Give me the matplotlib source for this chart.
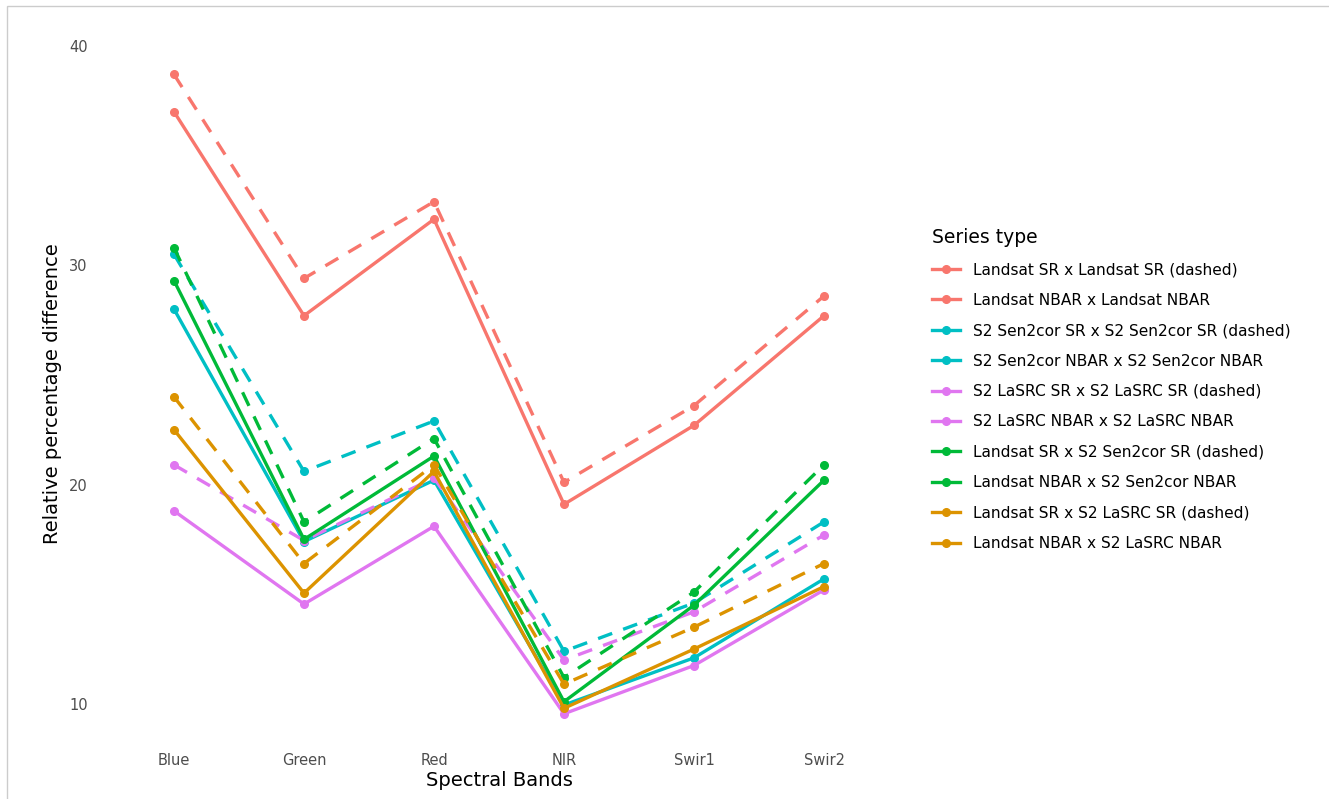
import matplotlib.pyplot as plt
from matplotlib.patches import Rectangle

# bands on the x axis
bands = ['Blue', 'Green', 'Red', 'NIR', 'Swir1', 'Swir2']

# series names (legend order)
series_names = [
    'Landsat SR x Landsat SR (dashed)',
    'Landsat NBAR x Landsat NBAR',
    'S2 Sen2cor SR x S2 Sen2cor SR (dashed)',
    'S2 Sen2cor NBAR x S2 Sen2cor NBAR',
    'S2 LaSRC SR x S2 LaSRC SR (dashed)',
    'S2 LaSRC NBAR x S2 LaSRC NBAR',
    'Landsat SR x S2 Sen2cor SR (dashed)',
    'Landsat NBAR x S2 Sen2cor NBAR',
    'Landsat SR x S2 LaSRC SR (dashed)',
    'Landsat NBAR x S2 LaSRC NBAR',
]

# values
landsat_sr = [38.7, 29.4, 32.9, 20.1, 23.6, 28.6]
landsat_nbar = [37.0, 27.7, 32.1, 19.1, 22.7, 27.7]
sen2cor_sr = [30.5, 20.6, 22.9, 12.4, 14.6, 18.3]
sen2cor_nbar = [28.0, 17.4, 20.2, 9.95, 12.1, 15.7]
lasrc_sr = [20.9, 17.45, 20.3, 12.0, 14.2, 17.7]
lasrc_nbar = [18.8, 14.55, 18.1, 9.55, 11.75, 15.2]
ls_sen2cor_sr = [30.8, 18.3, 22.1, 11.2, 15.1, 20.9]
ls_sen2cor_nbar = [29.3, 17.5, 21.3, 10.1, 14.5, 20.2]
ls_lasrc_sr = [24.0, 16.4, 20.9, 10.9, 13.5, 16.4]
ls_lasrc_nbar = [22.5, 15.05, 20.6, 9.8, 12.5, 15.35]

all_values = [landsat_sr, landsat_nbar, sen2cor_sr, sen2cor_nbar, lasrc_sr,
              lasrc_nbar, ls_sen2cor_sr, ls_sen2cor_nbar, ls_lasrc_sr, ls_lasrc_nbar]

red = '#F8766D'
cyan = '#00BFC4'
pink = '#E076F0'
green = '#00BA38'
orange = '#DC9300'
colors = [red, red, cyan, cyan, pink, pink, green, green, orange, orange]
dashed = [True, False] * 5

plt.rcParams['font.family'] = ['DejaVu Sans']

fig = plt.figure(figsize=(13.29, 7.99), dpi=100)
ax = fig.add_axes([96 / 1329, 1 - 746 / 799, (902 - 96) / 1329, (746 - 42) / 799])

x = list(range(len(bands)))
for name, vals, col, dsh in zip(series_names, all_values, colors, dashed):
    ls = (0, (4.5, 3.5)) if dsh else '-'
    ax.plot(x, vals, color=col, linestyle=ls, linewidth=2.4, marker='o',
            markersize=5.5, label=name)

ax.set_xlim(-0.6, 5.6)
ax.set_ylim(8.08, 40.18)
ax.set_xticks(x)
ax.set_xticklabels(bands)
ax.set_yticks([10, 20, 30, 40])
ax.tick_params(axis='both', length=0, labelsize=10.5, labelcolor='#4D4D4D')
ax.tick_params(axis='x', pad=5)
ax.tick_params(axis='y', pad=6)
for s in ax.spines.values():
    s.set_visible(False)

ax.set_xlabel('Spectral Bands', fontsize=14, labelpad=2)
ax.set_ylabel('Relative percentage difference', fontsize=14, labelpad=5)

# legend drawn with solid keys like the reference
handles = [plt.Line2D([], [], color=c, lw=2.4, marker='o', markersize=5.5) for c in colors]
leg = fig.legend(handles, series_names, loc='upper left',
                 bbox_to_anchor=(918 / 1329, 1 - 214 / 799), frameon=False,
                 title='Series type', title_fontsize=13.5, fontsize=11.1,
                 handlelength=1.8, labelspacing=1.0, handletextpad=0.85)
leg._legend_box.align = 'left'

# thin frame around the picture
fig.patches.append(Rectangle((7 / 1329, -0.01), 1.1, (799 - 6) / 799 + 0.01,
                             transform=fig.transFigure, fill=False,
                             edgecolor='#CCCCCC', lw=1))

fig.savefig('out.png', dpi=100)
